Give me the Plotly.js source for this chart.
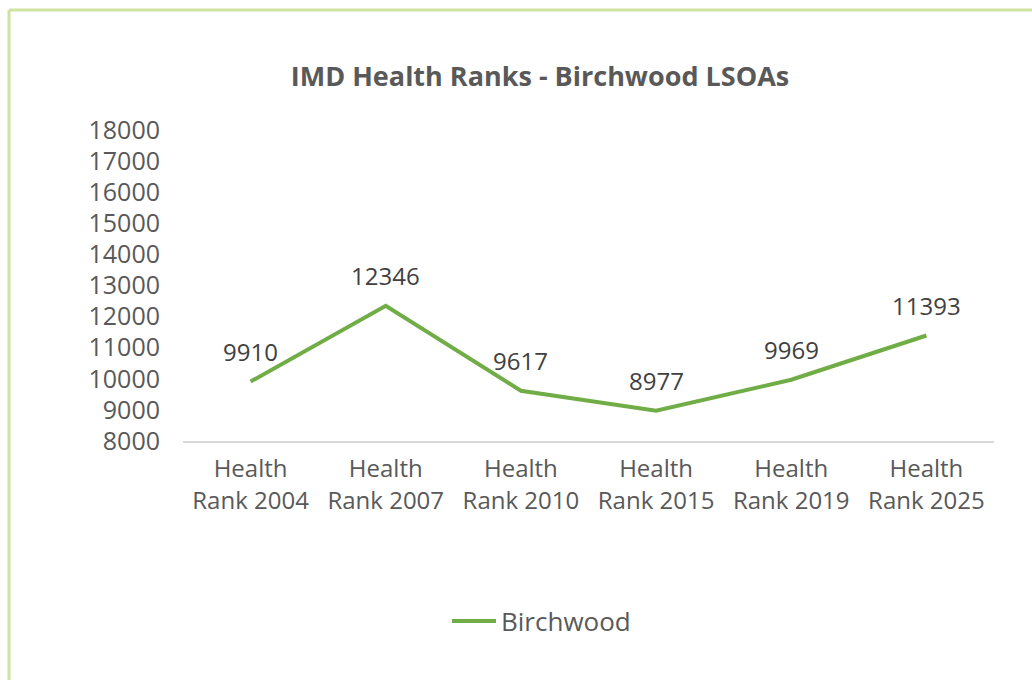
<!DOCTYPE html>
<html>
<head>
<meta charset="utf-8">
<script src="https://cdn.plot.ly/plotly-3.0.1.min.js"></script>
<style>html,body{margin:0;padding:0;background:#fff;}#chart{width:1032px;height:680px;}</style>
</head>
<body>
<div id="chart"></div>
<script>
const categories = ["Health<br>Rank 2004", "Health<br>Rank 2007", "Health<br>Rank 2010", "Health<br>Rank 2015", "Health<br>Rank 2019", "Health<br>Rank 2025"];
const birchwood = [9910, 12346, 9617, 8977, 9969, 11393];
const seriesName = "Birchwood";
const yTicks = [8000, 9000, 10000, 11000, 12000, 13000, 14000, 15000, 16000, 17000, 18000];

const W = 1032, H = 680;
const L = 183, R = 38, T = 130, B = 239;
const pw = W - L - R, ph = H - T - B;
const px = x => (x - L) / pw;
const py = y => (H - B - y) / ph;
const FONT = 'Open Sans, sans-serif';

const trace = {
  x: categories,
  y: birchwood,
  name: seriesName,
  type: 'scatter',
  mode: 'lines',
  line: {color: '#70AD47', width: 4},
  cliponaxis: false
};

const labels = birchwood.map((v, i) => ({
  x: categories[i], y: v, xref: 'x', yref: 'y',
  text: String(v), showarrow: false,
  yshift: 30, yanchor: 'middle',
  font: {family: FONT, size: 24, color: '#404040'}
}));

const layout = {
  width: W, height: H,
  margin: {l: L, r: R, t: T, b: B},
  paper_bgcolor: '#fff', plot_bgcolor: '#fff',
  title: {
    text: '<b>IMD Health Ranks - Birchwood LSOAs</b>',
    font: {family: FONT, size: 27, color: '#595959'},
    x: 540 / W, xanchor: 'center', xref: 'container',
    y: 1 - 77 / H, yanchor: 'middle', yref: 'container'
  },
  xaxis: {
    type: 'category',
    range: [-0.5, 5.5],
    showgrid: false, zeroline: false,
    showline: true, linecolor: '#d9d9d9', linewidth: 1.5,
    ticks: '', ticklabelstandoff: 6,
    tickfont: {family: FONT, size: 24, color: '#595959'},
    fixedrange: true
  },
  yaxis: {
    range: [8000, 18000],
    tickvals: yTicks,
    ticktext: yTicks.map(String),
    showgrid: false, zeroline: false, showline: false,
    ticks: '', ticklabelstandoff: 22,
    tickfont: {family: FONT, size: 25, color: '#595959'},
    fixedrange: true
  },
  annotations: labels,
  showlegend: true,
  legend: {
    orientation: 'h',
    x: px(447), xanchor: 'left',
    y: py(621), yanchor: 'middle',
    font: {family: FONT, size: 26, color: '#595959'},
    itemwidth: 44
  },
  shapes: [
    {type: 'line', xref: 'paper', yref: 'paper', x0: px(9), x1: px(9), y0: py(10), y1: py(H + 5), line: {color: '#cfe3a1', width: 3}},
    {type: 'line', xref: 'paper', yref: 'paper', x0: px(9), x1: px(W + 5), y0: py(10), y1: py(10), line: {color: '#cfe3a1', width: 3}}
  ]
};

Plotly.newPlot('chart', [trace], layout, {displayModeBar: false, staticPlot: true});
</script>
</body>
</html>
